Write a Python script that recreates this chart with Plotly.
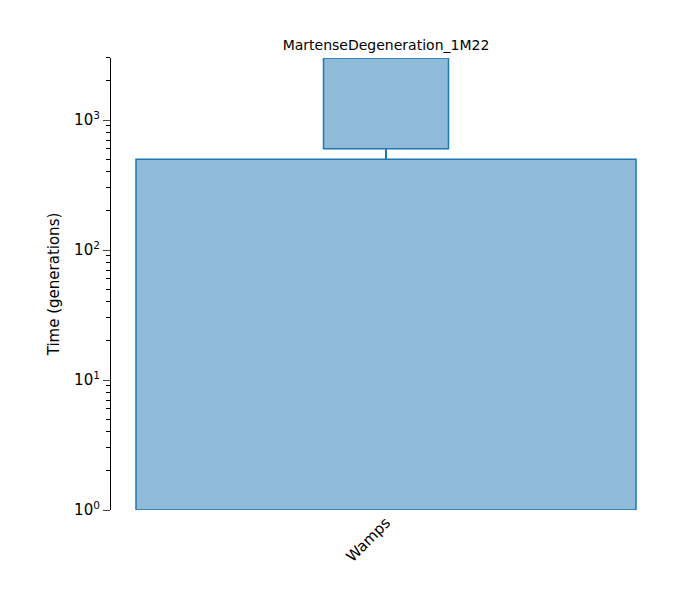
import plotly.graph_objects as go

title = "MartenseDegeneration_1M22"
deme = "Wamps"
# deme epochs: (start_time, end_time, relative width)
epoch_end = [1, 600]
epoch_start = [500, 3000]
epoch_width = [1.0, 0.25]
y_ticks = [1, 10, 100, 1000]
y_ticktext = ["10<sup>0</sup>", "10<sup>1</sup>", "10<sup>2</sup>", "10<sup>3</sup>"]
minor_ticks = [m * d for d in [1, 10, 100, 1000] for m in range(2, 10)]

fig = go.Figure()
for s, e, w in zip(epoch_start, epoch_end, epoch_width):
    fig.add_trace(go.Bar(x=[0], y=[s - e], base=[e], width=[w],
                         marker=dict(color="rgba(31,119,180,0.5)",
                                     line=dict(color="#1f77b4", width=1.5)),
                         showlegend=False, hoverinfo="skip"))
fig.add_trace(go.Scatter(x=[0, 0], y=[epoch_start[0], epoch_end[1]], mode="lines",
                         line=dict(color="#1f77b4", width=2), showlegend=False))
fig.update_layout(
    width=675, height=600, plot_bgcolor="white", paper_bgcolor="white",
    margin=dict(l=103, r=22, t=50, b=98, autoexpand=False),
    title=dict(text=title, x=0.56, y=0.947, xanchor="center", font=dict(size=14, color="black")),
    font=dict(family="DejaVu Sans", color="black"),
    barmode="overlay",
    xaxis=dict(range=[-0.55, 0.55], tickvals=[0], ticktext=[deme], tickangle=-45,
               showgrid=False, zeroline=False, showline=False, ticks="",
               tickfont=dict(size=15)),
    yaxis=dict(type="log", range=[0, 3.477], tickvals=y_ticks, ticktext=y_ticktext,
               showgrid=False, showline=True, linecolor="black", linewidth=1.2,
               ticks="outside", ticklen=7, tickfont=dict(size=15),
               minor=dict(ticks="outside", ticklen=3.5, tickcolor="black",
                          tickvals=minor_ticks, showgrid=False),
               title=dict(text="Time (generations)", font=dict(size=15), standoff=10)),
)
fig.write_html("out.html")
